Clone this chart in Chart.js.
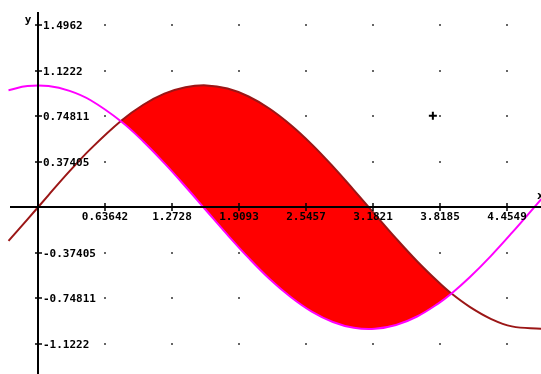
<!DOCTYPE html>
<html lang="en">
<head>
<meta charset="UTF-8">
<title>sin / cos</title>
<script src="https://cdn.jsdelivr.net/npm/chart.js@4/dist/chart.umd.min.js"></script>
<style>
    * { margin: 0; padding: 0; }
    body { background: #fff; }
    #box { width: 541px; height: 374px; }
</style>
</head>
<body>
<div id="box"><canvas id="plot" width="541" height="374"></canvas></div>
<script>
    // sample points
    const xs = [-0.28, -0.1, 0.1, 0.3, 0.5, 0.79, 1.0, 1.2, 1.4, 1.6, 1.8, 2.0, 2.2, 2.4, 2.6, 2.8, 3.0, 3.2, 3.4, 3.6, 3.8, 3.93, 4.1, 4.3, 4.5, 4.78]
    const sinVals = [-0.276, -0.100, 0.100, 0.296, 0.479, 0.710, 0.841, 0.932, 0.985, 1.000, 0.974, 0.909, 0.808, 0.675, 0.516, 0.335, 0.141, -0.058, -0.256, -0.443, -0.612, -0.711, -0.818, -0.916, -0.978, -0.998]
    const cosVals = [0.961, 0.995, 0.995, 0.955, 0.878, 0.704, 0.540, 0.362, 0.170, -0.029, -0.227, -0.416, -0.589, -0.737, -0.857, -0.942, -0.990, -0.998, -0.967, -0.897, -0.791, -0.706, -0.575, -0.401, -0.211, 0.067]

    const xTicks = [0.63642, 1.2728, 1.9093, 2.5457, 3.1821, 3.8185, 4.4549]
    const xLabels = ['0.63642', '1.2728', '1.9093', '2.5457', '3.1821', '3.8185', '4.4549']
    const yTicks = [1.4962, 1.1222, 0.74811, 0.37405, -0.37405, -0.74811, -1.1222]
    const yLabels = ['1.4962', '1.1222', '0.74811', '0.37405', '-0.37405', '-0.74811', '-1.1222']

    const cursor = [{ x: 3.75, y: 0.75 }]

    const font = "bold 11px 'DejaVu Sans Mono'"

    const axesPlugin = {
        id: 'axes',
        beforeDatasetsDraw(chart) {
            const ctx = chart.ctx
            const sx = chart.scales.x
            const sy = chart.scales.y
            ctx.save()
            ctx.fillStyle = '#666'
            xTicks.forEach(function (tx) {
                yTicks.forEach(function (ty) {
                    ctx.fillRect(Math.round(sx.getPixelForValue(tx)) - 1, Math.round(sy.getPixelForValue(ty)) - 1, 2, 2)
                })
            })
            ctx.restore()
        },
        afterDatasetsDraw(chart) {
            const ctx = chart.ctx
            const sx = chart.scales.x
            const sy = chart.scales.y
            const x0 = Math.round(sx.getPixelForValue(0))
            const y0 = Math.round(sy.getPixelForValue(0))
            ctx.save()
            ctx.strokeStyle = '#000'
            ctx.lineWidth = 2
            ctx.beginPath()
            ctx.moveTo(x0, 12)
            ctx.lineTo(x0, chart.height)
            ctx.moveTo(10, y0)
            ctx.lineTo(chart.width, y0)
            ctx.stroke()

            ctx.lineWidth = 1.5
            ctx.fillStyle = '#000'
            ctx.font = font
            ctx.textAlign = 'center'
            ctx.textBaseline = 'top'
            xTicks.forEach(function (tx, i) {
                const px = Math.round(sx.getPixelForValue(tx))
                ctx.beginPath()
                ctx.moveTo(px, y0 - 4)
                ctx.lineTo(px, y0 + 4)
                ctx.stroke()
                ctx.fillText(xLabels[i], px, y0 + 5)
            })
            ctx.textAlign = 'left'
            ctx.textBaseline = 'middle'
            yTicks.forEach(function (ty, i) {
                const py = Math.round(sy.getPixelForValue(ty))
                ctx.beginPath()
                ctx.moveTo(x0 - 3, py)
                ctx.lineTo(x0 + 4, py)
                ctx.stroke()
                ctx.fillText(yLabels[i], x0 + 5, py + 1)
            })
            ctx.textAlign = 'center'
            ctx.fillText('y', x0 - 10, 20)
            ctx.textAlign = 'left'
            ctx.fillText('x', chart.width - 4, y0 - 11)
            ctx.restore()
        }
    }

    new Chart(document.getElementById('plot'), {
        type: 'line',
        data: {
            datasets: [
                {
                    label: 'cos',
                    data: xs.map(function (x, i) { return { x: x, y: cosVals[i] } }),
                    borderColor: '#ff00ff',
                    borderWidth: 2,
                    pointRadius: 0,
                    tension: 0.4,
                    fill: false
                },
                {
                    label: 'sin',
                    data: xs.map(function (x, i) { return { x: x, y: sinVals[i] } }),
                    borderColor: '#9b1616',
                    borderWidth: 2,
                    pointRadius: 0,
                    tension: 0.4,
                    fill: { target: 0, above: '#ff0000', below: 'rgba(0,0,0,0)' }
                },
                {
                    label: 'cursor',
                    data: cursor,
                    showLine: false,
                    pointStyle: 'cross',
                    pointRadius: 4,
                    borderColor: '#000',
                    borderWidth: 2
                }
            ]
        },
        options: {
            responsive: false,
            animation: false,
            layout: { padding: 0, autoPadding: false },
            plugins: { legend: { display: false }, tooltip: { enabled: false } },
            scales: {
                x: { type: 'linear', min: -0.361, max: 4.777, display: false },
                y: { type: 'linear', min: -1.369, max: 1.701, display: false }
            }
        },
        plugins: [axesPlugin]
    })
</script>
</body>
</html>
